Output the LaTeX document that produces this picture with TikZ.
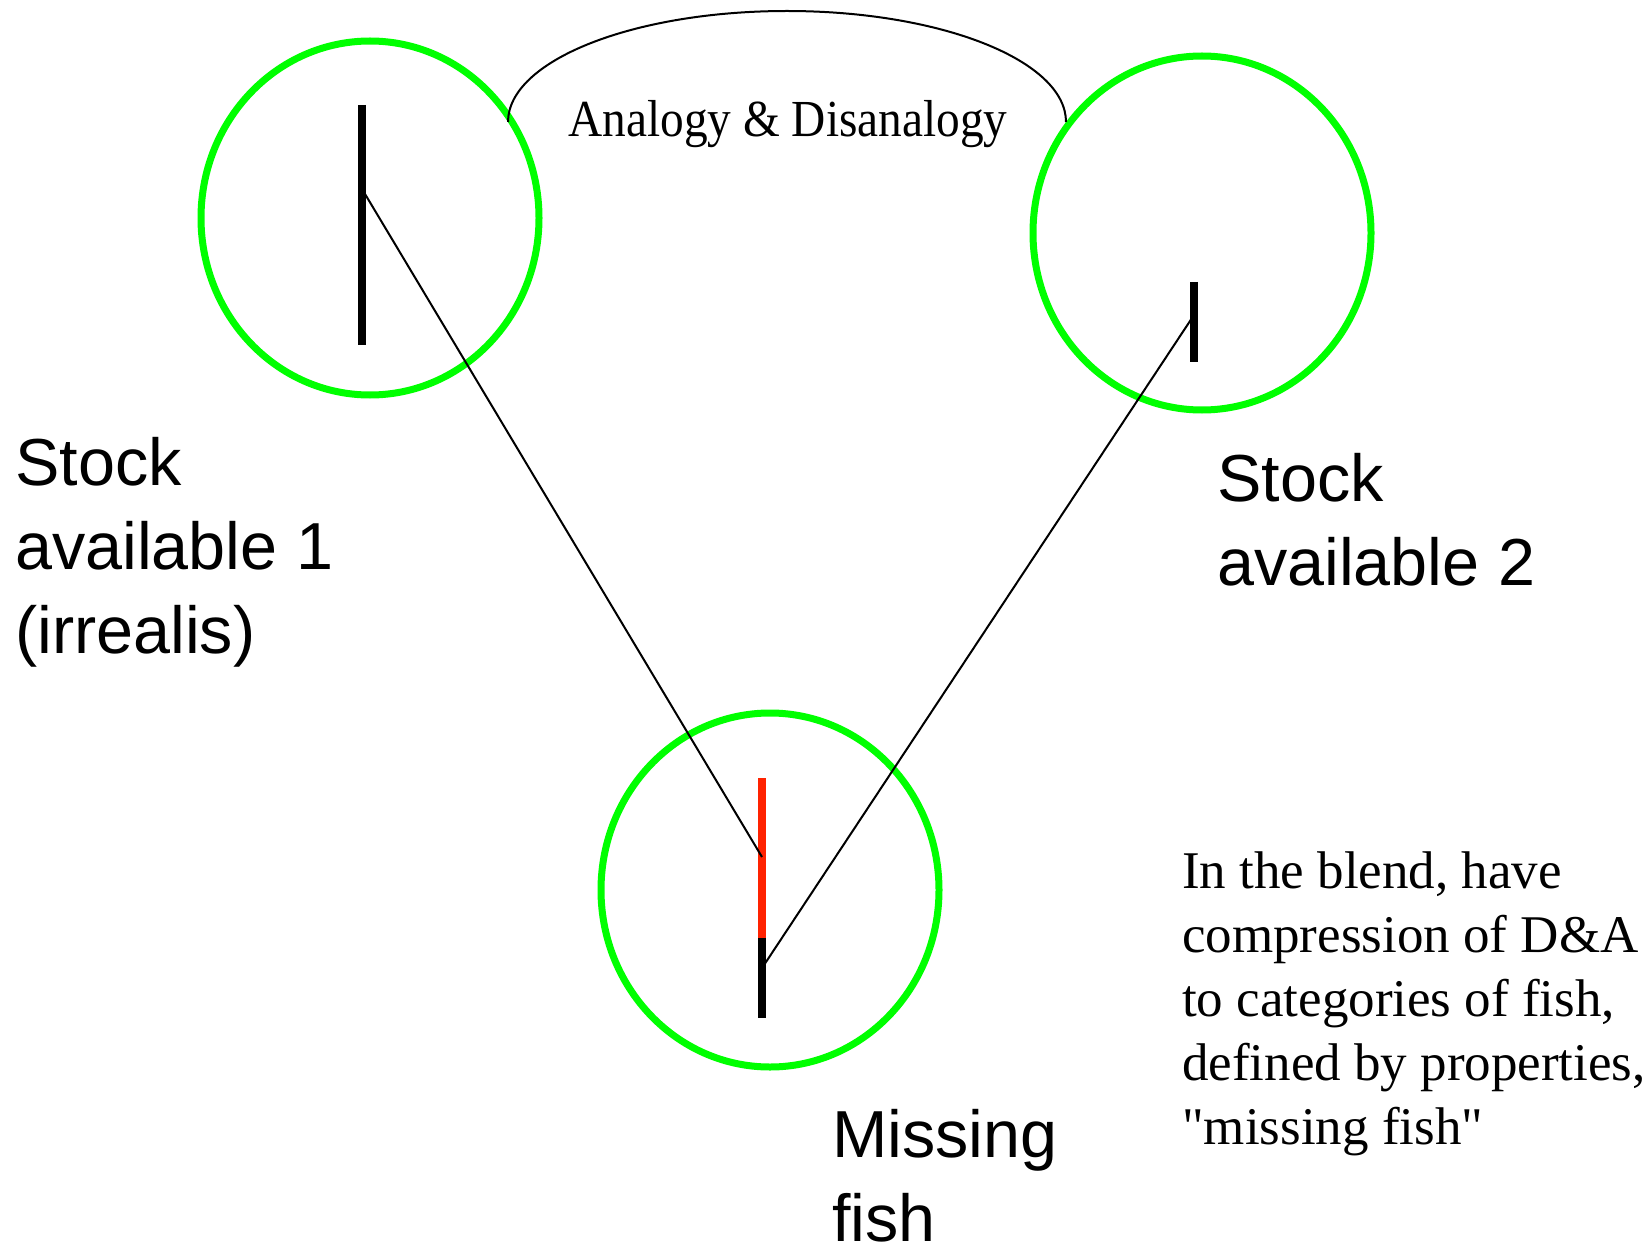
\documentclass[tikz,border=0pt]{standalone}
\usepackage{fontspec}
\setmainfont[Ligatures=TeXOff]{Liberation Serif}
\setsansfont{Liberation Sans}
\usetikzlibrary{shapes.geometric}
\definecolor{ringgreen}{RGB}{0,255,0}
\definecolor{barred}{RGB}{255,34,0}
\tikzset{
  space/.style={ellipse, draw=ringgreen, line width=7pt, minimum width=338pt, minimum height=354pt, inner sep=0pt},
  barline/.style={line width=8pt},
  link/.style={line width=2pt},
  sanslabel/.style={anchor=base west, inner sep=0pt, font=\sffamily\fontsize{66.5}{84}\selectfont},
  seriflabel/.style={anchor=base west, inner sep=0pt, font=\rmfamily\fontsize{53}{64}\selectfont}
}
\begin{document}
\begin{tikzpicture}[x=1pt,y=-1pt]
\useasboundingbox (0,0) rectangle (1651,1249);
% mental spaces
\node[space] (s1) at (370,218) {};
\node[space] (s2) at (1202,233) {};
\node[space] (bl) at (770,890) {};
% bars
\coordinate (a1) at (362,105);
\coordinate (a2) at (362,345);
\coordinate (a3) at (362,189);
\draw[barline] (a1) -- (a2);
\coordinate (b1) at (1194,282);
\coordinate (b2) at (1194,362);
\coordinate (b3) at (1192,318);
\draw[barline] (b1) -- (b2);
\coordinate (r1) at (762,778);
\coordinate (r2) at (762,938);
\coordinate (r3) at (762,1018);
\coordinate (m1) at (762,857);
\coordinate (m2) at (764,965);
\draw[barline, barred] (r1) -- (r2);
\draw[barline] (r2) -- (r3);
% links
\draw[link] (a3) -- (m1);
\draw[link] (b3) -- (m2);
% analogy arc
\coordinate (arcL) at (508,122);
\coordinate (arcR) at (1066,122);
\draw[line width=2pt] (arcL) arc[start angle=180, end angle=0, x radius=279, y radius=-111];
\node[anchor=base, inner sep=0pt, font=\rmfamily\fontsize{52}{60}\selectfont, xscale=0.91] (ad) at (788,137) {Analogy \& Disanalogy};
% labels
\node[sanslabel] (l1) at (15,485) {\vtop{\hbox{Stock}\hbox{available 1}\hbox{(irrealis)}}};
\node[sanslabel] (l2) at (1217,501) {\vtop{\hbox{Stock}\hbox{available 2}}};
\node[sanslabel] (l3) at (832,1157) {\vtop{\hbox{Missing}\hbox{fish}}};
\node[seriflabel] (note) at (1182,888) {\vtop{\hbox{In the blend, have}\hbox{compression of D\&A}\hbox{to categories of fish,}\hbox{defined by properties,}\hbox{"missing fish"}}};
\end{tikzpicture}
\end{document}
